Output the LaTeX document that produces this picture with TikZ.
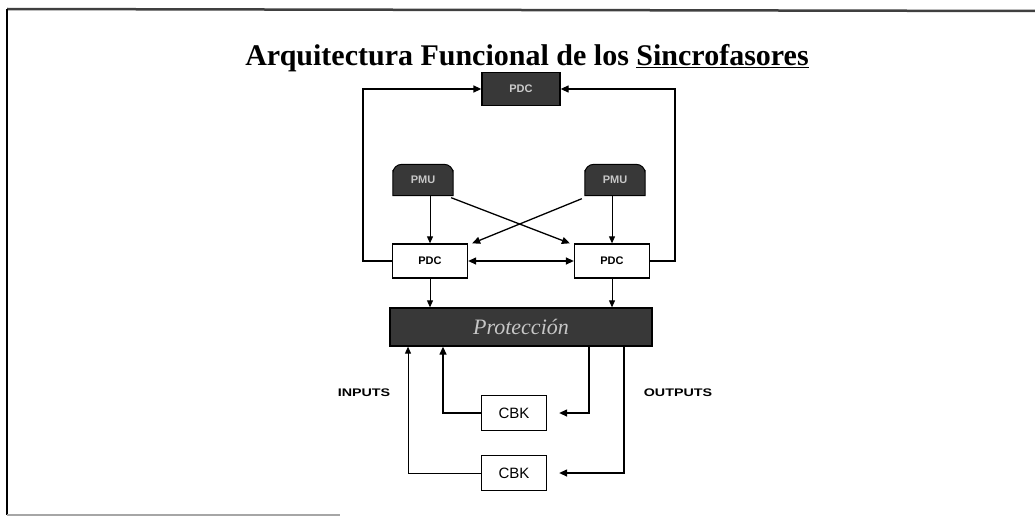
\documentclass[tikz,border=0pt]{standalone}
\usepackage{fontspec}
\setmainfont{Liberation Serif}
\newfontfamily\arialfont{Liberation Sans}
\usetikzlibrary{arrows.meta,positioning,calc}
\definecolor{darkfill}{gray}{0.22}
\tikzset{
  arr/.style={line width=1.3pt,-{Triangle[length=8pt,width=7pt]}},
  arrthin/.style={line width=0.9pt,-{Triangle[length=7pt,width=6pt]}},
  dbl/.style={line width=1.3pt,{Triangle[length=8pt,width=7pt]}-{Triangle[length=8pt,width=7pt]}},
  whitebox/.style={draw,line width=1.3pt,fill=white,minimum width=75pt,minimum height=34pt,inner sep=0pt,font=\arialfont\bfseries\fontsize{11}{13}\selectfont},
  cbkbox/.style={draw,line width=1.3pt,fill=white,minimum width=65pt,minimum height=35pt,inner sep=0pt,font=\arialfont\fontsize{15}{18}\selectfont},
  darkbox/.style={draw,line width=1.3pt,fill=darkfill,inner sep=0pt,text=gray!40,font=\arialfont\bfseries\fontsize{11}{13}\selectfont},
  lbl/.style={font=\arialfont\bfseries\fontsize{11}{13}\selectfont,inner sep=0pt},
}
\begin{document}
\begin{tikzpicture}[x=1pt,y=-1pt]
\useasboundingbox (0,0) rectangle (1035,527);
% frame
\draw[line width=2.5pt,black!75] (7,9) -- (1035,11);
\draw[line width=1.8pt] (7,9) -- (7,515);
\draw[line width=1.2pt,black!35] (7,515) -- (340,515);
% title
\node[font=\bfseries\fontsize{30}{34}\selectfont,inner sep=0pt,anchor=base] (title) at (527,66) {Arquitectura Funcional de los \underline{Sincrofasores}};
% top PDC
\node[darkbox,minimum width=78pt,minimum height=33pt] (pdcT) at (521,89) {PDC};
% PMUs
\node[minimum width=60pt,minimum height=31pt,inner sep=0pt] (pmuL) at (423,180) {};
\node[minimum width=60pt,minimum height=31pt,inner sep=0pt] (pmuR) at (615,180) {};
\foreach \p in {pmuL,pmuR}{
  \filldraw[fill=darkfill,line width=1pt] (\p.south west) -- ([yshift=10pt]\p.west) [rounded corners=9pt] -- (\p.north west) -- (\p.north east) [sharp corners] -- ([yshift=10pt]\p.east) -- (\p.south east) -- cycle;
  \node[text=gray!45,font=\arialfont\bfseries\fontsize{11}{13}\selectfont] at (\p) {PMU};
}
% lower PDCs
\node[whitebox] (pdcL) at (430,261) {PDC};
\node[whitebox] (pdcR) at (612,261) {PDC};
% band
\node[darkbox,minimum width=262pt,minimum height=38pt] (band) at (521,327) {};
\node[text=gray!45,font=\itshape\fontsize{22}{24}\selectfont,inner sep=0pt] at (band) {Protección};
% CBKs
\node[cbkbox] (cbk1) at (514,413) {CBK};
\node[cbkbox] (cbk2) at (514,473) {CBK};
% labels
\node[lbl] (inputs) at (364,393) {\scalebox{1.3}[1]{INPUTS}};
\node[lbl] (outputs) at (678,393) {\scalebox{1.3}[1]{OUTPUTS}};
% coordinates
\coordinate (lcol) at (363,0);
\coordinate (rcol) at (675,0);
\coordinate (in1) at (408,0);
\coordinate (in2) at (443,0);
\coordinate (out1) at (589,0);
\coordinate (out2) at (624,0);
% connectors to top PDC
\draw[arr] (pdcL.west) -| (lcol |- pdcT) -- (pdcT.west);
\draw[arr] (pdcR.east) -| (rcol |- pdcT) -- (pdcT.east);
% PDC <-> PDC
\draw[dbl] (pdcL.east) -- (pdcR.west);
% PMU to PDC
\draw[arrthin] (pdcL.north |- pmuL.south) -- (pdcL.north);
\draw[arrthin] (pdcR.north |- pmuR.south) -- (pdcR.north);
\draw[arr] ([xshift=-2pt,yshift=-2pt]pmuL.south east) -- ([xshift=-4pt]pdcR.north west);
\draw[arr] ([xshift=-3pt,yshift=-3pt]pmuR.south west) -- ([xshift=4pt]pdcL.north east);
% PDC to band
\draw[arrthin] (pdcL.south) -- (pdcL.south |- band.north);
\draw[arrthin] (pdcR.south) -- (pdcR.south |- band.north);
% inputs
\draw[arr] (cbk1.west) -| (in2 |- band.south);
\draw[arrthin] (cbk2.west) -| (in1 |- band.south);
% outputs
\draw[arr] (out1 |- band.south) |- ([xshift=12pt]cbk1.east);
\draw[arr] (out2 |- band.south) |- ([xshift=12pt]cbk2.east);
\end{tikzpicture}
\end{document}
